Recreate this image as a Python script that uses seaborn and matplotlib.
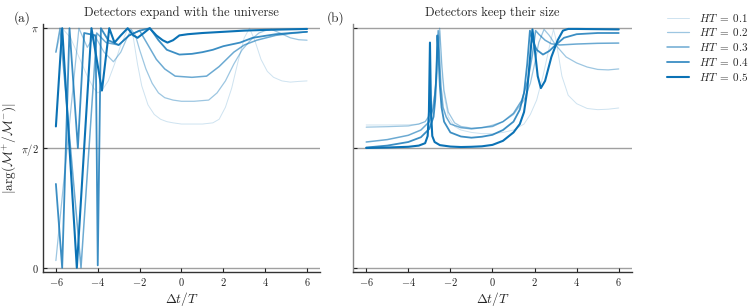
import numpy as np
import pandas as pd
import matplotlib
matplotlib.use("Agg")
import matplotlib.pyplot as plt
import seaborn as sns

# ---------------- data (y values in units of pi) ----------------
labels = [r"$HT\;=\;0.1$", r"$HT\;=\;0.2$", r"$HT\;=\;0.3$", r"$HT\;=\;0.4$", r"$HT\;=\;0.5$"]

# Panel (a): detectors expand with the universe
a1_x = [-6, -5.7, -5.3, -4.9, -4.5, -4.2, -4.0, -3.8, -3.5, -3.2, -2.9, -2.6, -2.45, -2.3, -2.1, -1.9, -1.6, -1.3, -1.0, -0.7, -0.4, 0.0, 0.5, 1.0, 1.5, 1.8, 2.1, 2.4, 2.7, 3.0, 3.25, 3.5, 3.8, 4.1, 4.4, 4.8, 5.2, 5.6, 6.0]
a1_y = [0.90, 1.00, 0.96, 0.88, 0.80, 0.75, 0.73, 0.74, 0.78, 0.85, 0.93, 0.99, 1.00, 0.96, 0.85, 0.76, 0.68, 0.64, 0.62, 0.61, 0.605, 0.60, 0.60, 0.60, 0.605, 0.62, 0.67, 0.75, 0.86, 0.96, 1.00, 0.95, 0.87, 0.82, 0.795, 0.78, 0.775, 0.778, 0.78]

a2_x = [-6, -4.9, -4.5, -4.15, -3.7, -3.25, -2.9, -2.6, -2.4, -2.2, -2.0, -1.7, -1.4, -1.1, -0.8, -0.4, 0.0, 0.6, 1.3, 1.7, 2.1, 2.5, 2.9, 3.3, 3.7, 4.0, 4.3, 4.7, 5.2, 5.6, 6.0]
a2_y = [0.03, 1.00, 0.92, 0.97, 0.90, 0.86, 0.90, 0.96, 0.995, 0.97, 0.91, 0.83, 0.77, 0.73, 0.71, 0.70, 0.695, 0.695, 0.70, 0.73, 0.78, 0.85, 0.91, 0.95, 0.98, 0.99, 0.995, 0.98, 0.96, 0.952, 0.95]

a3_x = [-6, -5.8, -4.8, -4.05, -3.6, -3.0, -2.5, -2.0, -1.6, -1.2, -0.8, -0.3, 0.5, 1.2, 1.8, 2.5, 3.0, 3.6, 4.5, 5.2, 6.0]
a3_y = [0.90, 1.00, 0.00, 0.98, 0.94, 0.93, 0.97, 0.99, 0.93, 0.87, 0.83, 0.80, 0.795, 0.80, 0.84, 0.90, 0.93, 0.95, 0.97, 0.978, 0.985]

a4_x = [-6, -5.7, -5.35, -4.95, -4.65, -4.1, -4.0, -3.85, -3.5, -3.0, -2.5, -2.0, -1.5, -1.1, -0.7, -0.1, 0.5, 1.0, 1.5, 2.0, 2.8, 3.4, 4.5, 5.2, 6.0]
a4_y = [0.35, 0.00, 1.00, 0.50, 0.98, 0.97, 0.01, 1.00, 0.95, 0.93, 0.97, 0.99, 1.00, 0.95, 0.91, 0.89, 0.893, 0.90, 0.91, 0.925, 0.94, 0.96, 0.975, 0.98, 0.985]

a5_x = [-6, -5.7, -5.0, -4.3, -3.8, -3.45, -3.2, -2.9, -2.57, -2.3, -2.1, -1.8, -1.52, -1.2, -0.9, -0.67, -0.4, -0.1, 0.3, 1.0, 2.0, 3.0, 4.0, 5.0, 6.0]
a5_y = [0.59, 1.00, 0.00, 1.00, 0.74, 1.00, 0.94, 0.97, 1.00, 0.97, 0.96, 0.98, 1.00, 0.97, 0.95, 0.94, 0.95, 0.97, 0.975, 0.98, 0.985, 0.99, 0.993, 0.995, 0.997]

# Panel (b): detectors keep their size
b1_x = [-6, -5, -4, -3.5, -3.2, -2.9, -2.75, -2.62, -2.55, -2.5, -2.45, -2.38, -2.3, -2.1, -1.8, -1.5, -1.0, -0.5, 0.0, 0.5, 1.0, 1.5, 1.8, 2.1, 2.4, 2.6, 2.75, 2.9, 3.0, 3.15, 3.3, 3.6, 4.0, 4.5, 5.0, 5.5, 6.0]
b1_y = [0.596, 0.596, 0.597, 0.60, 0.61, 0.64, 0.69, 0.80, 0.90, 0.99, 0.90, 0.80, 0.72, 0.63, 0.59, 0.575, 0.565, 0.56, 0.56, 0.565, 0.575, 0.60, 0.64, 0.70, 0.80, 0.88, 0.94, 0.995, 0.96, 0.88, 0.80, 0.72, 0.685, 0.665, 0.66, 0.662, 0.667]

b2_x = [-6, -5, -4, -3.5, -3.2, -2.9, -2.75, -2.62, -2.56, -2.51, -2.46, -2.4, -2.3, -2.1, -1.8, -1.5, -1.0, -0.5, 0.0, 0.5, 1.0, 1.5, 1.8, 2.0, 2.2, 2.45, 2.7, 3.0, 3.5, 4.0, 4.5, 5.0, 5.5, 6.0]
b2_y = [0.587, 0.589, 0.592, 0.60, 0.61, 0.65, 0.72, 0.85, 0.94, 1.00, 0.93, 0.84, 0.74, 0.65, 0.605, 0.59, 0.583, 0.585, 0.595, 0.61, 0.64, 0.70, 0.77, 0.85, 0.94, 0.995, 0.97, 0.93, 0.88, 0.855, 0.838, 0.828, 0.826, 0.83]

b3_x = [-6, -5, -4, -3.4, -3.0, -2.8, -2.7, -2.63, -2.58, -2.52, -2.45, -2.35, -2.2, -2.0, -1.5, -1.0, -0.5, 0.0, 0.5, 1.0, 1.4, 1.7, 1.9, 2.05, 2.2, 2.5, 2.8, 3.2, 4.0, 5.0, 6.0]
b3_y = [0.525, 0.535, 0.553, 0.575, 0.61, 0.67, 0.76, 0.90, 0.99, 0.89, 0.76, 0.67, 0.63, 0.60, 0.585, 0.58, 0.585, 0.59, 0.61, 0.645, 0.70, 0.79, 0.89, 0.99, 0.975, 0.95, 0.935, 0.93, 0.934, 0.937, 0.938]

b4_x = [-6, -5, -4, -3.4, -3.0, -2.8, -2.72, -2.66, -2.62, -2.57, -2.5, -2.42, -2.3, -2.0, -1.5, -1.0, -0.5, 0.0, 0.5, 1.0, 1.3, 1.5, 1.65, 1.78, 1.9, 2.1, 2.4, 2.7, 3.0, 3.4, 4.0, 5.0, 6.0]
b4_y = [0.502, 0.51, 0.525, 0.545, 0.58, 0.63, 0.70, 0.82, 0.97, 0.90, 0.76, 0.67, 0.61, 0.565, 0.548, 0.543, 0.547, 0.555, 0.575, 0.61, 0.66, 0.73, 0.85, 0.99, 0.95, 0.91, 0.89, 0.905, 0.93, 0.96, 0.975, 0.98, 0.98]

b5_x = [-6, -5, -4, -3.5, -3.2, -3.08, -3.02, -2.97, -2.92, -2.86, -2.75, -2.5, -2.0, -1.5, -1.0, -0.5, 0.0, 0.5, 1.0, 1.3, 1.5, 1.65, 1.78, 1.9, 2.0, 2.15, 2.3, 2.5, 2.8, 3.1, 3.35, 3.6, 4.0, 5.0, 6.0]
b5_y = [0.50, 0.502, 0.505, 0.51, 0.52, 0.55, 0.65, 0.94, 0.65, 0.55, 0.525, 0.512, 0.506, 0.504, 0.505, 0.507, 0.513, 0.53, 0.565, 0.60, 0.65, 0.74, 0.87, 0.995, 0.92, 0.80, 0.75, 0.78, 0.88, 0.95, 0.99, 0.997, 0.997, 0.996, 0.995]

panel_a = [(a1_x, a1_y), (a2_x, a2_y), (a3_x, a3_y), (a4_x, a4_y), (a5_x, a5_y)]
panel_b = [(b1_x, b1_y), (b2_x, b2_y), (b3_x, b3_y), (b4_x, b4_y), (b5_x, b5_y)]

titles = ["Detectors expand with the universe", "Detectors keep their size"]
panel_tags = ["(a)", "(b)"]
xticks = [-6, -4, -2, 0, 2, 4, 6]

# ---------------- style ----------------
sns.set_theme(style="ticks")
plt.rcParams["font.family"] = ["cmr10", "DejaVu Serif"]
plt.rcParams["mathtext.fontset"] = "cm"
plt.rcParams["axes.formatter.use_mathtext"] = True
plt.rcParams["axes.unicode_minus"] = True

base = "#0b72b5"
alphas = [0.2, 0.4, 0.6, 0.8, 1.0]
widths = [0.7, 0.9, 1.1, 1.3, 1.5]

fig = plt.figure(figsize=(7.53, 3.08), dpi=100)
ax_a = fig.add_axes([0.057, 0.117, 0.368, 0.805])
ax_b = fig.add_axes([0.469, 0.117, 0.370, 0.805])

for ax, panel, title, tag in zip([ax_a, ax_b], [panel_a, panel_b], titles, panel_tags):
    for yv in [0, np.pi / 2, np.pi]:
        ax.axhline(yv, color="#a0a0a0", lw=1.0, zorder=0)
    for (xs, fs), lab, al, w in zip(panel, labels, alphas, widths):
        df = pd.DataFrame({"x": xs, "y": np.asarray(fs) * np.pi})
        sns.lineplot(data=df, x="x", y="y", ax=ax, color=base, alpha=al, lw=w,
                     sort=False, estimator=None, legend=False)
    ax.set_xlim(-6.62, 6.62)
    ax.set_ylim(-0.055, np.pi + 0.055)
    ax.set_xticks(xticks)
    ax.set_xticklabels([f"${t}$" for t in xticks], fontsize=7.5)
    ax.set_yticks([0, np.pi / 2, np.pi])
    ax.tick_params(direction="in", length=3, width=0.8, colors="#222222", labelsize=7.5, pad=3)
    for s in ["top", "right"]:
        ax.spines[s].set_visible(False)
    for s in ["left", "bottom"]:
        ax.spines[s].set_linewidth(1.0)
        ax.spines[s].set_color("#333333")
    ax.set_xlabel(r"$\Delta t/T$", fontsize=9.5, labelpad=1)
    ax.set_title(title, fontsize=9, pad=6)
    ax.set_ylabel("")

ax_a.set_yticklabels([r"$0$", r"$\pi/2$", r"$\pi$"])
ax_b.set_yticklabels([])
ax_b.spines["left"].set_color("#888888")
ax_a.set_ylabel(r"$|\arg(\mathcal{M}^{+}/\mathcal{M}^{-})|$", fontsize=9.5, labelpad=2)

fig.text(0.018, 0.94, "(a)", fontsize=9.5, va="center")
fig.text(0.434, 0.94, "(b)", fontsize=9.5, va="center")

handles = [plt.Line2D([], [], color=base, alpha=al, lw=w) for al, w in zip(alphas, widths)]
fig.legend(handles, labels, loc="upper left", bbox_to_anchor=(0.872, 0.995),
           frameon=False, fontsize=8, handlelength=2.0, labelspacing=0.25, handletextpad=0.9)

fig.savefig("out.png", dpi=100)
